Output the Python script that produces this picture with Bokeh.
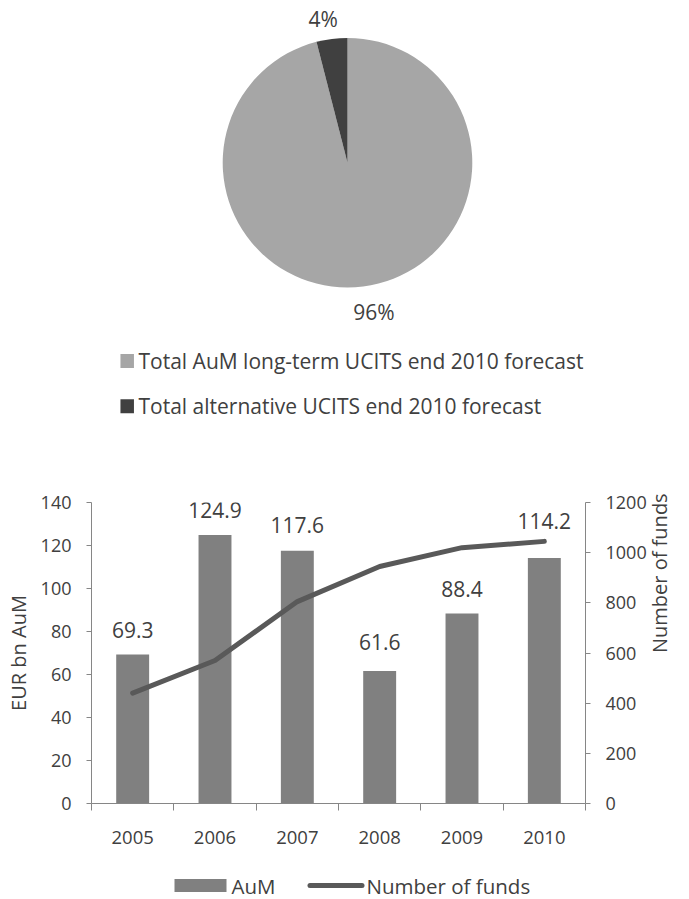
import math
from bokeh.plotting import figure
from bokeh.models import Range1d, LinearAxis, FixedTicker, ColumnDataSource, LabelSet
from bokeh.core.properties import value
from bokeh.embed import file_html
from bokeh.resources import INLINE

# ---------------- data ----------------
pie_names = ["Total AuM long-term UCITS end 2010 forecast",
             "Total alternative UCITS end 2010 forecast"]
pie_shares = [96, 4]
pie_colors = ["#A6A6A6", "#404040"]

years = ["2005", "2006", "2007", "2008", "2009", "2010"]
aum = [69.3, 124.9, 117.6, 61.6, 88.4, 114.2]
funds = [440, 570, 805, 945, 1020, 1045]
left_ticks = [0, 20, 40, 60, 80, 100, 120, 140]
right_ticks = [0, 200, 400, 600, 800, 1000, 1200]

# ---------------- styles / layout ----------------
FONT = "Open Sans"
TXT = "#404040"
AXC = "#868686"
W = 689
PIE_H = 458
BAR_H = 400
LEG_H = 41
BL, BR, BT, BB = 91, 97, 44, 55            # bar chart borders (px)
label_lift = [25, 25, 26, 29, 24, 37]      # px above bar top for data labels
pie_label_dx = [8, -6]                     # px nudges for pie labels (96%, 4%)
pie_label_dy = [-3, -2]

# ---------------- pie (page coordinates) ----------------
pie = figure(width=W, height=PIE_H, x_range=Range1d(0, W),
             y_range=Range1d(-PIE_H, 0), x_axis_type=None, y_axis_type=None,
             toolbar_location=None, output_backend="svg", min_border=0,
             outline_line_color=None)
cx, cy, r = 347.0, -162.2, 124.8
total = float(sum(pie_shares))
starts, ends, mids = [], [], []
cum = 0.0
for s in pie_shares:
    a0 = math.pi / 2 - 2 * math.pi * cum / total
    cum += s
    a1 = math.pi / 2 - 2 * math.pi * cum / total
    starts.append(a0)
    ends.append(a1)
    mids.append((a0 + a1) / 2)
pie.wedge(x=cx, y=cy, radius=r, start_angle=starts, end_angle=ends,
          direction="clock", fill_color=pie_colors, line_color=None)

rl = 147.0
lx = [cx + rl * math.cos(m) + d for m, d in zip(mids, pie_label_dx)]
ly = [cy + rl * math.sin(m) + d for m, d in zip(mids, pie_label_dy)]
pie.text(x=lx, y=ly, text=[f"{s}%" for s in pie_shares], text_align="center",
         text_baseline="middle", text_font=value(FONT), text_font_size="21px",
         text_color=TXT)

leg_y = [-360.5, -405.8]
pie.rect(x=126.7, y=leg_y, width=13.5, height=14, fill_color=pie_colors, line_color=None)
pie.text(x=138, y=leg_y, text=pie_names, text_align="left", text_baseline="middle",
         text_font=value(FONT), text_font_size="21px", text_color=TXT)

# ---------------- bar + line chart ----------------
xs = [i + 1 for i in range(len(years))]
x0, x1 = 0.5, len(years) + 0.5
p = figure(width=W, height=BAR_H, x_range=Range1d(x0, x1),
           y_range=Range1d(left_ticks[0], left_ticks[-1]),
           toolbar_location=None, output_backend="svg",
           min_border_left=BL, min_border_right=BR, min_border_top=BT,
           min_border_bottom=BB, outline_line_color=None)
p.xgrid.visible = False
p.ygrid.visible = False
p.extra_y_ranges = {"funds": Range1d(right_ticks[0], right_ticks[-1])}

src = ColumnDataSource(dict(x=xs, aum=aum, funds=funds,
                            lab=[f"{v}" for v in aum], lift=label_lift))
p.vbar(x="x", top="aum", width=0.4, fill_color="#808080", line_color=None, source=src)
p.line(x="x", y="funds", y_range_name="funds", line_width=5, line_color="#595959",
       line_cap="round", line_join="round", source=src)
p.add_layout(LabelSet(x="x", y="aum", text="lab", y_offset="lift", source=src,
                      text_align="center", text_baseline="middle",
                      text_font=value(FONT), text_font_size="21px", text_color=TXT))

def style_axis(ax, size="18px"):
    ax.axis_line_color = AXC
    ax.axis_line_width = 1
    ax.major_tick_line_color = AXC
    ax.minor_tick_line_color = AXC
    ax.major_tick_in = 0
    ax.minor_tick_in = 0
    ax.major_label_text_font = FONT
    ax.major_label_text_font_size = size
    ax.major_label_text_color = TXT
    ax.axis_label_text_font = FONT
    ax.axis_label_text_font_size = "20px"
    ax.axis_label_text_font_style = "normal"
    ax.axis_label_text_color = TXT

xa = p.xaxis[0]
xa.ticker = FixedTicker(ticks=xs, minor_ticks=[i + 0.5 for i in range(len(years) + 1)])
xa.major_label_overrides = {x: y for x, y in zip(xs, years)}
style_axis(xa, "18.5px")
xa.major_tick_out = 0
xa.minor_tick_out = 7
xa.major_label_standoff = 20

ya = p.yaxis[0]
ya.ticker = FixedTicker(ticks=left_ticks)
ya.axis_label = "EUR bn AuM"
style_axis(ya)
ya.major_tick_out = 5
ya.minor_tick_out = 0
ya.major_label_standoff = 15
ya.axis_label_standoff = 6

ra = LinearAxis(y_range_name="funds", ticker=FixedTicker(ticks=right_ticks),
                axis_label="Number of funds")
style_axis(ra)
ra.major_tick_out = 5
ra.minor_tick_out = 0
ra.major_label_standoff = 15
ra.axis_label_standoff = 10
ra.axis_label_text_line_height = 0.8
if "axis_label_orientation" in ra.properties():
    ra.axis_label_orientation = math.pi / 2
p.add_layout(ra, "right")

# ---------------- bottom legend strip (page coordinates) ----------------
top = PIE_H + BAR_H
leg = figure(width=W, height=LEG_H, x_range=Range1d(0, W),
             y_range=Range1d(-(top + LEG_H), -top), x_axis_type=None, y_axis_type=None,
             toolbar_location=None, output_backend="svg", min_border=0,
             outline_line_color=None)
ly2 = -885
leg.rect(x=200, y=ly2, width=52, height=13, fill_color="#808080", line_color=None)
leg.line(x=[309.5, 361.5], y=[ly2, ly2], line_width=5, line_color="#595959", line_cap="round")
leg.text(x=[231, 366], y=[ly2, ly2], text=["AuM", "Number of funds"], text_align="left",
         text_baseline="middle", text_font=value(FONT), text_font_size="20.5px", text_color=TXT)

open("out.html", "w").write(file_html([pie, p, leg], INLINE))
